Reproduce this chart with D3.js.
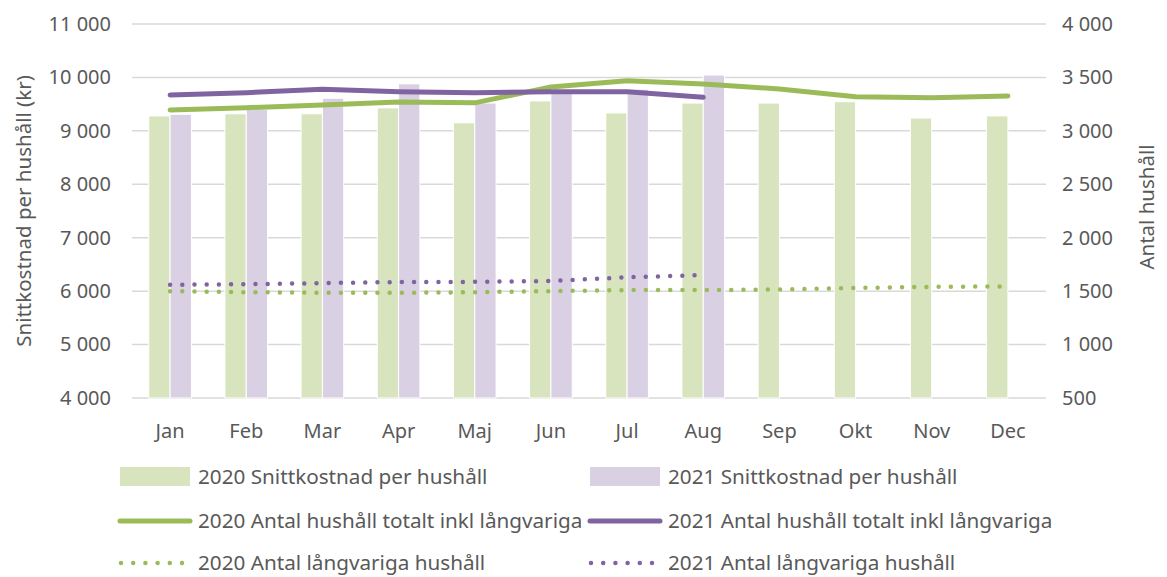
<!DOCTYPE html>
<html>
<head>
<meta charset="utf-8">
<script src="https://cdn.jsdelivr.net/npm/d3@7"></script>
<style>
  body { margin: 0; background: #fff; }
  text { font-family: "Noto Sans", sans-serif; fill: #595959; }
</style>
</head>
<body>
<div id="chart"></div>
<script>
var months = ["Jan", "Feb", "Mar", "Apr", "Maj", "Jun", "Jul", "Aug", "Sep", "Okt", "Nov", "Dec"]
var cost2020 = [9280, 9320, 9320, 9430, 9150, 9560, 9335, 9520, 9520, 9545, 9240, 9280]
var cost2021 = [9310, 9400, 9610, 9880, 9520, 9720, 9780, 10045]
var total2020 = [3195, 3217, 3242, 3270, 3262, 3410, 3469, 3439, 3392, 3320, 3310, 3326]
var total2021 = [3336, 3357, 3389, 3367, 3357, 3367, 3367, 3314]
var long2020 = [1500, 1490, 1485, 1485, 1490, 1500, 1510, 1510, 1515, 1530, 1540, 1545]
var long2021 = [1560, 1565, 1575, 1585, 1587, 1595, 1630, 1650]
var leftTicks = [4000, 5000, 6000, 7000, 8000, 9000, 10000, 11000]
var rightTicks = [500, 1000, 1500, 2000, 2500, 3000, 3500, 4000]

var width = 1167, height = 577
var plot = { left: 132, right: 1046, top: 24, bottom: 398 }

var svg = d3.select("#chart").append("svg")
    .attr("width", width)
    .attr("height", height)

var fmt = d => d3.format(",")(d).replace(/,/g, " ")

var x = d3.scaleBand().domain(months).range([plot.left, plot.right]).paddingInner(0.44).paddingOuter(0.22)
var xs = d3.scaleBand().domain(["2020", "2021"]).range([0, x.bandwidth()])
var yL = d3.scaleLinear().domain([4000, 11000]).range([plot.bottom, plot.top])
var yR = d3.scaleLinear().domain([500, 4000]).range([plot.bottom, plot.top])

// gridlines
svg.append("g").selectAll("line")
    .data(leftTicks)
    .enter().append("line")
    .attr("x1", plot.left).attr("x2", plot.right)
    .attr("y1", d => yL(d)).attr("y2", d => yL(d))
    .attr("stroke", "#d9d9d9").attr("stroke-width", 1.5)

// left axis
var axL = svg.append("g")
    .attr("transform", `translate(${plot.left - 21},0)`)
    .call(d3.axisLeft(yL).tickValues(leftTicks).tickSize(0).tickPadding(0).tickFormat(fmt))
axL.select(".domain").remove()
axL.selectAll("text").style("font-size", "20px").attr("fill", "#595959")

// right axis
var axR = svg.append("g")
    .attr("transform", `translate(${plot.right + 16},0)`)
    .call(d3.axisRight(yR).tickValues(rightTicks).tickSize(0).tickPadding(0).tickFormat(fmt))
axR.select(".domain").remove()
axR.selectAll("text").style("font-size", "20px").attr("fill", "#595959")

// x axis labels
var axX = svg.append("g")
    .attr("transform", `translate(0,${plot.bottom + 22})`)
    .call(d3.axisBottom(x).tickSize(0).tickPadding(0))
axX.select(".domain").remove()
axX.selectAll("text").style("font-size", "20px").attr("fill", "#595959").attr("dy", "0.9em")

// axis titles
svg.append("text")
    .attr("transform", `translate(31,${(plot.top + plot.bottom) / 2}) rotate(-90)`)
    .attr("text-anchor", "middle")
    .style("font-size", "20.5px")
    .text("Snittkostnad per hushåll (kr)")

svg.append("text")
    .attr("transform", `translate(1154,${(plot.top + plot.bottom) / 2 - 4}) rotate(-90)`)
    .attr("text-anchor", "middle")
    .style("font-size", "20.5px")
    .text("Antal hushåll")

// bars
svg.append("g").selectAll("rect")
    .data(cost2020)
    .enter().append("rect")
    .attr("x", (d, i) => x(months[i]) + xs("2020"))
    .attr("y", d => yL(d))
    .attr("width", xs.bandwidth())
    .attr("height", d => plot.bottom - yL(d))
    .attr("fill", "#d7e4bd")
    .attr("stroke", "#fff").attr("stroke-width", 1)

svg.append("g").selectAll("rect")
    .data(cost2021)
    .enter().append("rect")
    .attr("x", (d, i) => x(months[i]) + xs("2021"))
    .attr("y", d => yL(d))
    .attr("width", xs.bandwidth())
    .attr("height", d => plot.bottom - yL(d))
    .attr("fill", "#d9d0e4")
    .attr("stroke", "#fff").attr("stroke-width", 1)

var line = d3.line()
    .x((d, i) => x(months[i]) + x.bandwidth() / 2)
    .y(d => yR(d))

function drawLine(data, color, dotted) {
    var p = svg.append("path")
        .datum(data)
        .attr("d", line)
        .attr("fill", "none")
        .attr("stroke", color)
        .attr("stroke-linecap", "round")
        .attr("stroke-linejoin", "round")
    if (dotted) p.attr("stroke-width", 4.5).attr("stroke-dasharray", "0 12.2")
    else p.attr("stroke-width", 5)
}

drawLine(long2020, "#9bbb59", true)
drawLine(long2021, "#8064a2", true)
drawLine(total2020, "#9bbb59", false)
drawLine(total2021, "#8064a2", false)

// legend
var legend = [
    { label: "2020 Snittkostnad per hushåll", color: "#d7e4bd", type: "bar", x: 120, y: 477 },
    { label: "2021 Snittkostnad per hushåll", color: "#d9d0e4", type: "bar", x: 590, y: 477 },
    { label: "2020 Antal hushåll totalt inkl långvariga", color: "#9bbb59", type: "line", x: 120, y: 521 },
    { label: "2021 Antal hushåll totalt inkl långvariga", color: "#8064a2", type: "line", x: 590, y: 521 },
    { label: "2020 Antal långvariga hushåll", color: "#9bbb59", type: "dot", x: 120, y: 563 },
    { label: "2021 Antal långvariga hushåll", color: "#8064a2", type: "dot", x: 590, y: 563 }
]

var lg = svg.append("g").selectAll("g")
    .data(legend)
    .enter().append("g")
    .attr("transform", d => `translate(${d.x},${d.y})`)

lg.filter(d => d.type === "bar").append("rect")
    .attr("x", 0).attr("y", -10).attr("width", 70).attr("height", 19)
    .attr("fill", d => d.color)

lg.filter(d => d.type !== "bar").append("line")
    .attr("x1", d => d.type === "dot" ? 1 : 0).attr("x2", 70)
    .attr("y1", 0).attr("y2", 0)
    .attr("stroke", d => d.color)
    .attr("stroke-width", d => d.type === "dot" ? 4.5 : 5)
    .attr("stroke-linecap", "round")
    .attr("stroke-dasharray", d => d.type === "dot" ? "0 12.2" : null)

lg.append("text")
    .attr("x", 78)
    .attr("y", 0)
    .attr("dy", "0.35em")
    .style("font-size", "20.7px")
    .text(d => d.label)
</script>
</body>
</html>
